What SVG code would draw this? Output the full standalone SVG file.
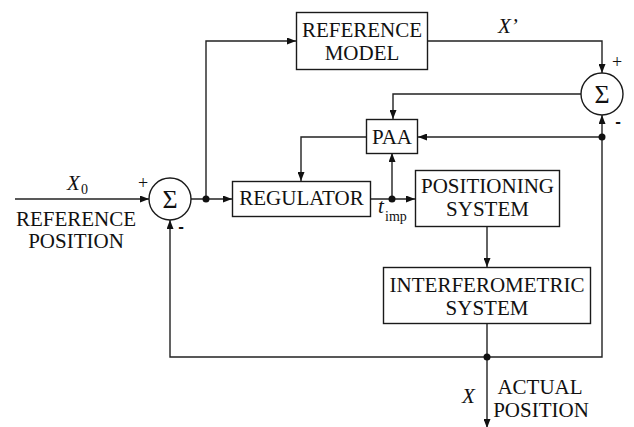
<svg xmlns="http://www.w3.org/2000/svg" width="634" height="427" viewBox="0 0 634 427">
  <style>
    .box { fill: #fff; stroke: #1a1a1a; stroke-width: 1.4; }
    .wire { fill: none; stroke: #222; stroke-width: 1.4; }
    .sum { fill: #fff; stroke: #1a1a1a; stroke-width: 1.4; }
    .lbl { font-family: 'Liberation Serif', 'DejaVu Serif', serif; font-size: 21px; fill: #111; text-anchor: middle; }
    .var { font-family: 'Liberation Serif', 'DejaVu Serif', serif; font-size: 21px; font-style: italic; fill: #111; }
    .sub { font-family: 'Liberation Serif', 'DejaVu Serif', serif; font-size: 14px; fill: #111; }
    .sig { font-family: 'Liberation Serif', 'DejaVu Serif', serif; font-size: 26px; fill: #111; text-anchor: middle; }
    .plus { font-family: 'Liberation Serif', 'DejaVu Serif', serif; font-size: 18px; fill: #111; text-anchor: middle; }
    .minus { font-family: 'Liberation Sans', Arial, sans-serif; font-size: 17px; font-weight: bold; fill: #111; text-anchor: middle; }
    .dot { fill: #111; }
  </style>
  <defs>
    <marker id="arr" markerUnits="userSpaceOnUse" markerWidth="9" markerHeight="7" refX="9" refY="3.5" orient="auto">
      <path d="M0,0 L9,3.5 L0,7 z" fill="#111"/>
    </marker>
  </defs>

  <!-- signal paths -->
  <g id="connectors">
    <path class="wire" d="M15,199 H149" marker-end="url(#arr)"/>
    <path class="wire" d="M191,199 H232" marker-end="url(#arr)"/>
    <path class="wire" d="M206,199 V41 H296" marker-end="url(#arr)"/>
    <path class="wire" d="M428,41 H602 V73" marker-end="url(#arr)"/>
    <path class="wire" d="M581,94 H393 V119" marker-end="url(#arr)"/>
    <path class="wire" d="M602,137 H418" marker-end="url(#arr)"/>
    <path class="wire" d="M366,137 H301 V181" marker-end="url(#arr)"/>
    <path class="wire" d="M371,199 H415" marker-end="url(#arr)"/>
    <path class="wire" d="M392,199 V153" marker-end="url(#arr)"/>
    <path class="wire" d="M487,227 V267" marker-end="url(#arr)"/>
    <path class="wire" d="M487,324 V428" marker-end="url(#arr)"/>
    <path class="wire" d="M487,357 H170 V220" marker-end="url(#arr)"/>
    <path class="wire" d="M487,357 H602 V115" marker-end="url(#arr)"/>
    <circle class="dot" cx="206" cy="199" r="3.5"/>
    <circle class="dot" cx="392" cy="199" r="3.5"/>
    <circle class="dot" cx="602" cy="137" r="3.5"/>
    <circle class="dot" cx="487" cy="357" r="3.5"/>
  </g>

  <!-- input and output labels -->
  <g id="input-label">
    <text class="var" x="67" y="190">X</text>
    <text class="sub" x="81" y="194">0</text>
    <text class="lbl" x="76" y="226">REFERENCE</text>
    <text class="lbl" x="76" y="248">POSITION</text>
  </g>
  <g id="output-label">
    <text class="var" x="462" y="403">X</text>
    <text class="lbl" x="540" y="394">ACTUAL</text>
    <text class="lbl" x="541" y="417">POSITION</text>
  </g>
  <g id="timp-label">
    <text class="var" x="378" y="213">t</text>
    <text class="sub" x="385" y="221">imp</text>
  </g>
  <g id="xprime-label">
    <text class="var" x="498" y="33">X’</text>
  </g>

  <!-- summing junctions -->
  <g id="sum-input">
    <circle class="sum" cx="170" cy="199" r="21"/>
    <text class="sig" x="170" y="208">Σ</text>
    <text class="plus" x="143" y="189">+</text>
    <text class="minus" x="181" y="232">-</text>
  </g>
  <g id="sum-model">
    <circle class="sum" cx="602" cy="94" r="21"/>
    <text class="sig" x="602" y="103">Σ</text>
    <text class="plus" x="617" y="68">+</text>
    <text class="minus" x="618" y="127">-</text>
  </g>

  <!-- blocks -->
  <g id="reference-model">
    <rect class="box" x="296.5" y="12.5" width="131" height="57"/>
    <text class="lbl" x="362" y="37">REFERENCE</text>
    <text class="lbl" x="362" y="60">MODEL</text>
  </g>
  <g id="paa">
    <rect class="box" x="366.5" y="119.5" width="51" height="34"/>
    <text class="lbl" x="392" y="144">PAA</text>
  </g>
  <g id="regulator">
    <rect class="box" x="232.5" y="181.5" width="138" height="35"/>
    <text class="lbl" x="301.5" y="205">REGULATOR</text>
  </g>
  <g id="positioning-system">
    <rect class="box" x="415.5" y="170.5" width="144" height="56"/>
    <text class="lbl" x="487.5" y="193">POSITIONING</text>
    <text class="lbl" x="487.5" y="216">SYSTEM</text>
  </g>
  <g id="interferometric-system">
    <rect class="box" x="383.5" y="267.5" width="207" height="56"/>
    <text class="lbl" x="487" y="292">INTERFEROMETRIC</text>
    <text class="lbl" x="487" y="315">SYSTEM</text>
  </g>
</svg>
